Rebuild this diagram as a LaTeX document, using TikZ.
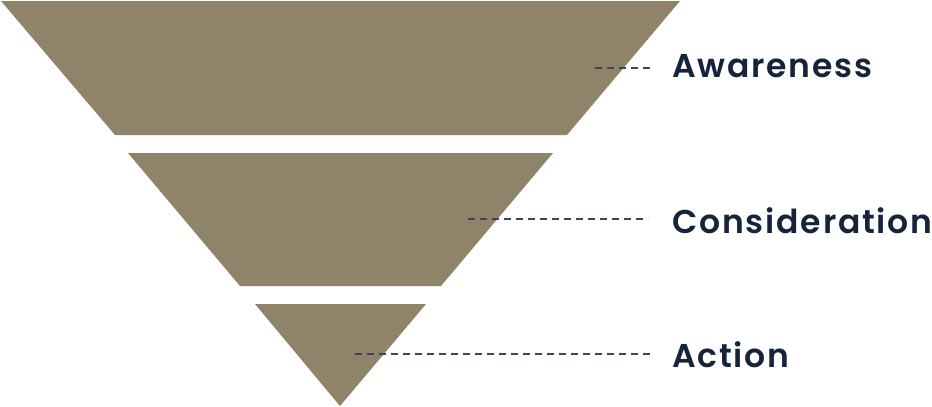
\documentclass[tikz,border=0pt]{standalone}
\usepackage{fontspec}
\setmainfont{Poppins}[UprightFont=* SemiBold, BoldFont=* Bold, LetterSpace=5.5]
\definecolor{funnel}{HTML}{8F836A}
\definecolor{labelc}{HTML}{15243A}
\definecolor{dashc}{HTML}{3A4656}
\begin{document}
\begin{tikzpicture}[x=1pt,y=-1pt,
  stage/.style={fill=funnel,draw=none},
  lbl/.style={anchor=base west,inner sep=0pt,text=labelc,font=\fontsize{33}{36}\selectfont},
  leader/.style={draw=dashc,line width=1.1pt,dash pattern=on 7pt off 5pt}]
\useasboundingbox (0,0) rectangle (932,407);
\fill[stage] (1,1) -- (680,1) -- (567,135) -- (115,135) -- cycle;
\fill[stage] (128,153) -- (553,153) -- (441,286) -- (240,286) -- cycle;
\fill[stage] (255,304) -- (426,304) -- (340,406) -- cycle;
\node[lbl] (aw) at (672,77) {Awareness};
\node[lbl] (co) at (672,233) {Consideration};
\node[lbl] (ac) at (672,367) {Action};
\coordinate (a1) at (595,68);
\coordinate (c1) at (468,219);
\coordinate (t1) at (355,354);
\draw[leader] (a1) -- ([xshift=-22pt]a1 -| aw.west);
\draw[leader] (c1) -- ([xshift=-24pt]c1 -| co.west);
\draw[leader] (t1) -- ([xshift=-19pt]t1 -| ac.west);
\end{tikzpicture}
\end{document}
